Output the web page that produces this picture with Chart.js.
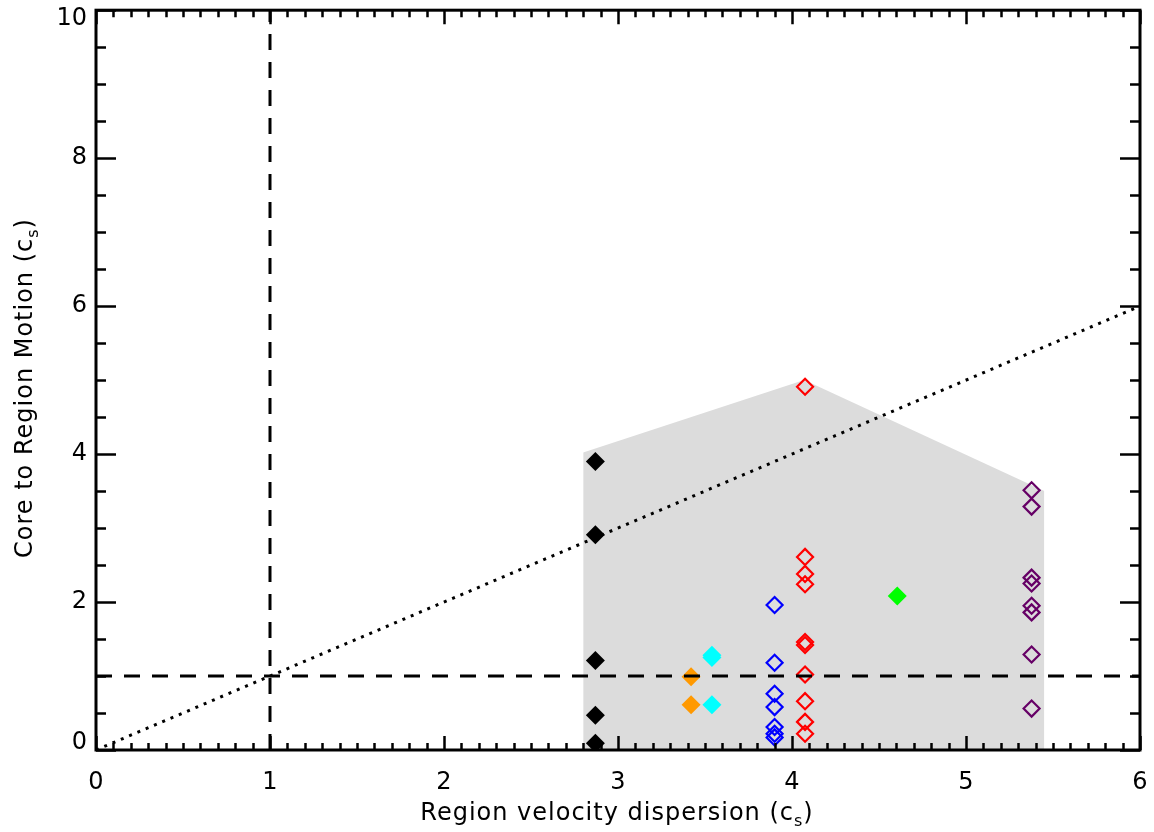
<!DOCTYPE html>
<html>
<head>
<meta charset="utf-8">
<script src="https://cdn.jsdelivr.net/npm/chart.js@4.4.1/dist/chart.umd.min.js"></script>
<style>
  html, body { margin: 0; padding: 0; background: #fff; }
  #wrap { width: 1154px; height: 832px; }
</style>
</head>
<body>
<div id="wrap"><canvas id="c" width="1154" height="832"></canvas></div>
<script>
// ---- data ----
const xTicks = [0, 1, 2, 3, 4, 5, 6];
const yTicks = [0, 2, 4, 6, 8, 10];

const shadeX = [2.80, 4.07, 5.45];
const shadeY = [4.02, 5.00, 3.50];

const blackX = 2.87;
const blackY = [3.90, 2.91, 1.21, 0.47, 0.09];
const orangeX = 3.42;
const orangeY = [0.99, 0.61];
const cyanX = 3.54;
const cyanY = [1.28, 1.25, 0.61];
const blueX = 3.90;
const blueY = [1.96, 1.18, 0.76, 0.58, 0.31, 0.22, 0.17];
const redX = 4.075;
const redY = [4.91, 2.61, 2.38, 2.24, 1.46, 1.42, 1.02, 0.66, 0.38, 0.22];
const greenX = 4.605;
const greenY = [2.08];
const purpleX = 5.377;
const purpleY = [3.51, 3.29, 2.33, 2.25, 1.95, 1.86, 1.29, 0.56];

const vlineX = [1, 1], vlineY = [0, 10];
const hlineX = [0, 6], hlineY = [1, 1];
const diagX = [0, 6], diagY = [0, 6];

const pts = (x, ys) => ys.map(y => ({ x: x, y: y }));
const pairs = (xs, ys) => xs.map((x, i) => ({ x: x, y: ys[i] }));

const FONT = "'DejaVu Sans', sans-serif";

function markerSet(x, ys, color, filled) {
  return {
    type: 'scatter',
    data: pts(x, ys),
    pointStyle: 'rectRot',
    pointRadius: filled ? 9.5 : 8,
    pointHoverRadius: filled ? 9.5 : 8,
    pointBackgroundColor: filled ? color : 'rgba(0,0,0,0)',
    pointBorderColor: color,
    pointBorderWidth: filled ? 0 : 2.2,
    order: 5
  };
}
function lineSet(xs, ys, dash, width) {
  return {
    type: 'line',
    data: pairs(xs, ys),
    borderColor: '#000',
    borderWidth: width,
    borderDash: dash,
    pointRadius: 0,
    fill: false,
    tension: 0,
    order: 1
  };
}

const frame = {
  id: 'frame',
  afterDraw(chart) {
    const { ctx, chartArea: a, scales } = chart;
    const x = scales.x, y = scales.y;
    ctx.save();
    ctx.strokeStyle = '#000';
    ctx.lineWidth = 2.5;
    ctx.beginPath();
    for (let i = 0; i <= 60; i++) {
      const px = Math.round(x.getPixelForValue(i / 10)) + 0.5;
      const len = (i % 10 === 0) ? 14 : 7;
      ctx.moveTo(px, a.bottom); ctx.lineTo(px, a.bottom - len);
      ctx.moveTo(px, a.top); ctx.lineTo(px, a.top + len);
    }
    for (let i = 0; i <= 20; i++) {
      const py = Math.round(y.getPixelForValue(i * 0.5)) + 0.5;
      const len = (i % 4 === 0) ? 20 : 10;
      ctx.moveTo(a.left, py); ctx.lineTo(a.left + len, py);
      ctx.moveTo(a.right, py); ctx.lineTo(a.right - len, py);
    }
    ctx.stroke();
    ctx.lineWidth = 3;
    ctx.strokeRect(a.left, a.top, a.right - a.left, a.bottom - a.top);

    // y tick labels (kept inside the frame's vertical extent, as in the reference)
    ctx.fillStyle = '#000';
    ctx.font = '24px ' + FONT;
    ctx.textAlign = 'right';
    ctx.textBaseline = 'middle';
    yTicks.forEach(v => {
      const py = y.getPixelForValue(v);
      const cy = Math.min(Math.max(py, a.top + 9), a.bottom - 7);
      ctx.fillText(String(v), a.left - 9, cy);
    });

    // axis titles with subscript
    function drawTitle(main, sub, tail, cx, cy, rot, size, spacing) {
      ctx.save();
      ctx.translate(cx, cy);
      ctx.rotate(rot);
      ctx.fillStyle = '#000';
      ctx.textBaseline = 'alphabetic';
      ctx.textAlign = 'left';
      ctx.letterSpacing = spacing + 'px';
      const big = size + 'px ' + FONT, small = Math.round(size * 0.65) + 'px ' + FONT;
      ctx.font = big; const w1 = ctx.measureText(main).width; const w3 = ctx.measureText(tail).width;
      ctx.font = small; const w2 = ctx.measureText(sub).width;
      let sx = -(w1 + w2 + w3) / 2;
      ctx.font = big; ctx.fillText(main, sx, 0); sx += w1;
      ctx.font = small; ctx.fillText(sub, sx, size * 0.25); sx += w2;
      ctx.font = big; ctx.fillText(tail, sx, 0);
      ctx.restore();
    }
    drawTitle('Region velocity dispersion (c', 's', ')', 617, 820, 0, 24, 1);
    drawTitle('Core to Region Motion (c', 's', ')', 32, 388, -Math.PI / 2, 24, 1);
    ctx.restore();
  }
};

new Chart(document.getElementById('c'), {
  type: 'scatter',
  data: {
    datasets: [
      {
        type: 'line',
        data: pairs(shadeX, shadeY),
        borderWidth: 0,
        borderColor: 'rgba(0,0,0,0)',
        backgroundColor: '#dcdcdc',
        pointRadius: 0,
        fill: 'origin',
        tension: 0,
        order: 10
      },
      markerSet(blackX, blackY, '#000000', true),
      markerSet(orangeX, orangeY, '#ff9900', true),
      markerSet(cyanX, cyanY, '#00ffff', true),
      markerSet(blueX, blueY, '#0000ff', false),
      markerSet(redX, redY, '#ff0000', false),
      markerSet(greenX, greenY, '#00ff00', true),
      markerSet(purpleX, purpleY, '#660066', false),
      lineSet(vlineX, vlineY, [16, 12], 3),
      lineSet(hlineX, hlineY, [16, 12], 3),
      lineSet(diagX, diagY, [3, 6], 3)
    ]
  },
  options: {
    responsive: false,
    animation: false,
    events: [],
    layout: { padding: { top: 7, right: 14, left: 0, bottom: 0 } },
    plugins: { legend: { display: false }, tooltip: { enabled: false } },
    scales: {
      x: {
        type: 'linear', min: 0, max: 6,
        afterBuildTicks: s => { s.ticks = xTicks.map(v => ({ value: v })); },
        afterFit: s => { s.height = 82; s.paddingLeft = 0; s.paddingRight = 0; },
        grid: { display: false, drawTicks: false },
        border: { display: false },
        ticks: { color: '#000', font: { family: FONT, size: 24 }, padding: 18, maxRotation: 0, callback: v => String(v) }
      },
      y: {
        type: 'linear', min: 0, max: 10,
        afterBuildTicks: s => { s.ticks = yTicks.map(v => ({ value: v })); },
        afterFit: s => { s.width = 96; s.paddingTop = 0; s.paddingBottom = 0; },
        grid: { display: false, drawTicks: false },
        border: { display: false },
        ticks: { display: false }
      }
    }
  },
  plugins: [frame]
});
</script>
</body>
</html>
